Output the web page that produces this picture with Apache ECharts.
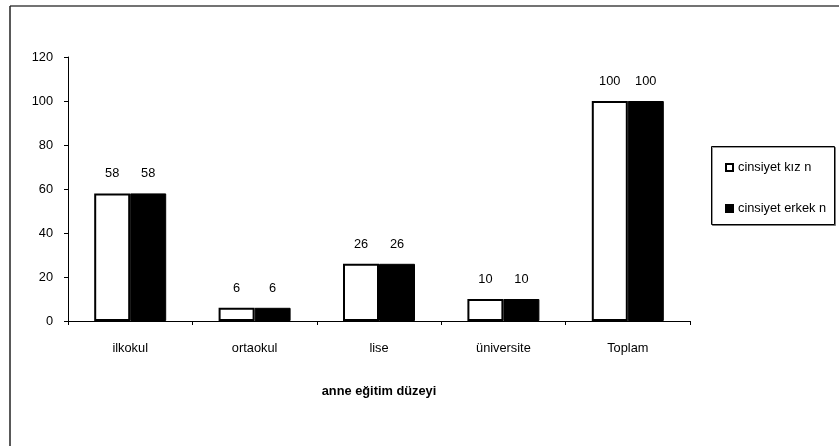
<!DOCTYPE html>
<html><head><meta charset="utf-8">
<script src="https://cdn.jsdelivr.net/npm/echarts@6/dist/echarts.min.js"></script>
<style>html,body{margin:0;padding:0;background:#fff}#c{width:839px;height:446px}</style>
</head><body><div id="c"></div>
<script>
const categories = ['ilkokul', 'ortaokul', 'lise', 'üniversite', 'Toplam'];
const kizValues = [58, 6, 26, 10, 100];
const erkekValues = [58, 6, 26, 10, 100];
const seriesNames = ['cinsiyet kız n', 'cinsiyet erkek n'];
const axisTitle = 'anne eğitim düzeyi';
const yTicks = { min: 0, max: 120, interval: 20 };

const FONT = 'Liberation Sans, Arial, sans-serif';
const FS = 12.8;
const chart = echarts.init(document.getElementById('c'), null, { renderer: 'canvas' });
const labelCfg = { show: true, position: 'top', distance: 13, color: '#000', fontFamily: FONT, fontSize: FS };
chart.setOption({
  animation: false,
  backgroundColor: '#fff',
  textStyle: { fontFamily: FONT },
  grid: { left: 68, top: 57, width: 622, height: 264, containLabel: false },
  legend: {
    orient: 'vertical', left: 725, top: 161,
    padding: 0, itemGap: 28,
    itemWidth: 7, itemHeight: 7,
    textStyle: { fontFamily: FONT, fontSize: FS, color: '#000' },
    data: [{ name: seriesNames[0], icon: 'rect' }, { name: seriesNames[1], icon: 'rect' }],
    z: 5
  },
  xAxis: {
    type: 'category', data: categories,
    name: axisTitle, nameLocation: 'middle', nameGap: 64,
    nameTextStyle: { fontFamily: FONT, fontSize: FS, fontWeight: 'bold', color: '#000' },
    axisLine: { lineStyle: { color: '#000', width: 1 } },
    axisTick: { show: true, length: 4, lineStyle: { color: '#000' } },
    axisLabel: { color: '#000', fontSize: FS, fontFamily: FONT, margin: 21 },
    splitLine: { show: false }
  },
  yAxis: {
    type: 'value', min: yTicks.min, max: yTicks.max, interval: yTicks.interval,
    axisLine: { show: true, lineStyle: { color: '#000', width: 1 } },
    axisTick: { show: true, length: 4, lineStyle: { color: '#000' } },
    axisLabel: { color: '#000', fontSize: FS, fontFamily: FONT, margin: 15 },
    splitLine: { show: false }
  },
  series: [
    { name: seriesNames[0], type: 'bar', data: kizValues, barWidth: 36, barGap: '0%',
      itemStyle: { color: '#fff', borderColor: '#000', borderWidth: 2 }, label: labelCfg },
    { name: seriesNames[1], type: 'bar', data: erkekValues, barWidth: 36, barGap: '0%',
      itemStyle: { color: '#000', borderColor: '#000', borderWidth: 1 }, label: labelCfg }
  ],
  graphic: [
    { type: 'line', shape: { x1: 10, y1: 6, x2: 839, y2: 6 }, style: { stroke: '#444', lineWidth: 1.5 } },
    { type: 'line', shape: { x1: 10, y1: 6, x2: 10, y2: 446 }, style: { stroke: '#222', lineWidth: 1.5 } },
    { type: 'rect', z: -1, shape: { x: 711.5, y: 146.5, width: 123, height: 78 },
      style: { fill: '#fff', stroke: '#000', lineWidth: 1, shadowColor: 'rgba(0,0,0,0.4)', shadowOffsetX: 1, shadowOffsetY: 1, shadowBlur: 0 } }
  ]
});
</script></body></html>
